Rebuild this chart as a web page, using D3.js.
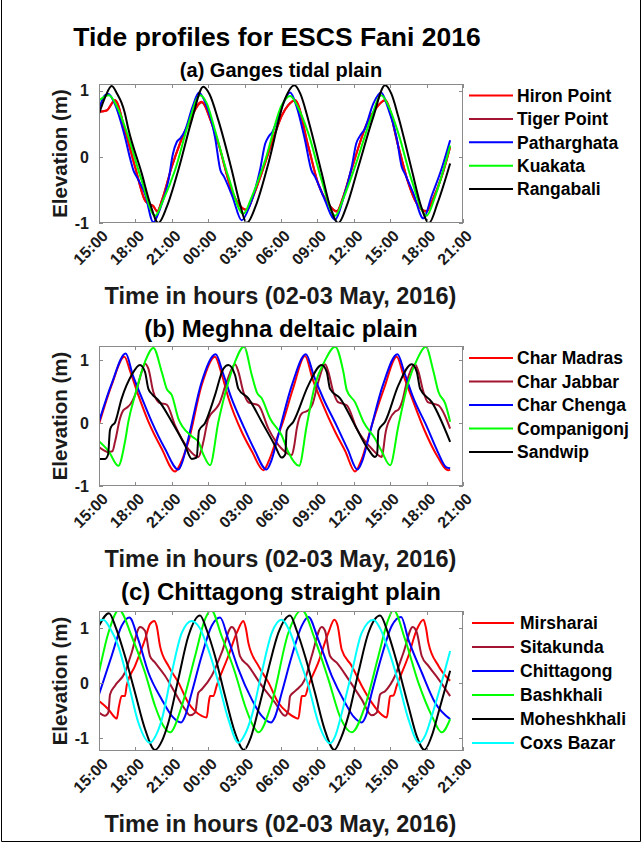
<!DOCTYPE html>
<html><head><meta charset="utf-8">
<script src="https://cdn.jsdelivr.net/npm/d3@7"></script>
<style>
body{margin:0;background:#fff}
svg{display:block;font-family:"Liberation Sans",Arial,Helvetica,sans-serif;font-weight:bold}
</style>
</head><body>
<svg id="chart" width="642" height="855"></svg>
<script>
// ---------- data (hours after 15:00 on 02 May 2016, elevation in m) ----------
const hourTicks = [0,3,6,9,12,15,18,21,24,27,30];
const hourLabels = ["15:00","18:00","21:00","00:00","03:00","06:00","09:00","12:00","15:00","18:00","21:00"];
const elevTicks = [-1,0,1];

// (a) Ganges tidal plain
const gangesNames = ["Hiron Point","Tiger Point","Patharghata","Kuakata","Rangabali"];
const hironPoint = [[0,0.68],[0.63,0.70],[1.32,0.86],[2.14,0.40],[2.97,-0.15],[3.79,-0.66],[4.2,-0.72],[4.45,-0.74],[4.8,-0.83],[5.2,-0.65],[6.0,-0.15],[7.37,0.5],[8.47,0.83],[9.2,0.55],[9.84,0.2],[10.94,-0.51],[11.5,-0.71],[12.18,-0.8],[12.7,-0.6],[13.4,-0.25],[14.5,0.35],[15.06,0.62],[15.6,0.78],[16.16,0.86],[17.26,0.15],[18.07,-0.41],[18.9,-0.71],[19.6,-0.83],[20.1,-0.62],[20.8,-0.2],[22.2,0.55],[22.7,0.7],[23.58,0.86],[24.68,0.15],[25.5,-0.4],[26.05,-0.66],[27.0,-0.83],[27.5,-0.65],[28.24,-0.3],[28.94,0.15]];
const tigerPoint = [[0,0.68],[0.63,0.70],[1.32,0.85],[2.14,0.40],[2.97,-0.15],[3.79,-0.66],[4.2,-0.72],[4.45,-0.74],[4.8,-0.82],[5.2,-0.65],[6.0,-0.15],[7.37,0.5],[8.47,0.82],[9.2,0.55],[9.84,0.2],[10.94,-0.51],[11.5,-0.71],[12.18,-0.8],[12.7,-0.6],[13.4,-0.25],[14.5,0.35],[15.06,0.62],[15.6,0.78],[16.16,0.85],[17.26,0.15],[18.07,-0.41],[18.9,-0.71],[19.6,-0.82],[20.1,-0.62],[20.8,-0.2],[22.2,0.55],[22.7,0.7],[23.58,0.85],[24.68,0.15],[25.5,-0.4],[26.05,-0.66],[27.0,-0.82],[27.5,-0.65],[28.24,-0.3],[28.94,0.15]];
const patharghata = [[0,0.73],[0.49,0.93],[0.77,0.95],[1.3,0.8],[2.14,0.3],[2.6,-0.05],[2.83,-0.2],[3.1,-0.3],[3.79,-0.56],[4.48,-0.99],[5.0,-0.8],[5.72,-0.36],[6.1,0.05],[6.4,0.22],[6.7,0.28],[7.1,0.4],[7.7,0.75],[8.24,0.97],[8.8,0.8],[9.56,0.3],[10.0,-0.2],[10.3,-0.3],[11.0,-0.6],[11.76,-0.96],[12.4,-0.75],[13.27,-0.2],[13.7,0.2],[13.96,0.3],[14.3,0.38],[15.06,0.75],[15.75,0.97],[16.3,0.75],[16.98,0.25],[17.5,-0.2],[17.8,-0.3],[18.5,-0.6],[19.46,-0.95],[20.1,-0.65],[20.83,-0.15],[21.2,0.2],[21.52,0.32],[21.9,0.42],[22.6,0.8],[23.25,0.97],[23.8,0.75],[24.54,0.28],[24.95,-0.15],[25.2,-0.25],[25.9,-0.55],[26.74,-0.93],[27.4,-0.6],[28.2,-0.2],[28.94,0.25]];
const kuakata = [[0,0.85],[0.82,0.93],[1.5,0.75],[2.42,0.3],[3.52,-0.36],[4.62,-0.89],[5.3,-0.65],[6.27,-0.2],[7.37,0.5],[8.33,0.93],[8.9,0.8],[9.56,0.4],[10.66,-0.3],[11.9,-0.86],[12.6,-0.6],[13.7,-0.05],[15.06,0.78],[15.75,0.92],[16.4,0.75],[17.26,0.35],[18.36,-0.36],[19.46,-0.89],[20.2,-0.6],[21.1,-0.15],[22.45,0.6],[23.25,0.93],[23.9,0.75],[24.68,0.35],[25.78,-0.36],[27.0,-0.89],[27.7,-0.6],[28.94,0.17]];
const rangabali = [[0,0.65],[0.5,0.9],[1.05,1.07],[1.5,0.95],[1.87,0.81],[2.1,0.68],[2.42,0.42],[3.52,-0.25],[4.2,-0.7],[4.89,-1.0],[5.6,-0.75],[6.54,-0.2],[7.64,0.55],[8.6,1.06],[9.1,0.95],[9.84,0.55],[10.94,-0.2],[11.6,-0.7],[12.18,-1.0],[12.9,-0.75],[13.96,-0.1],[15.3,0.86],[16.1,1.08],[16.6,0.95],[17.26,0.55],[18.36,-0.25],[19.0,-0.72],[19.73,-1.0],[20.4,-0.75],[21.38,-0.15],[22.6,0.6],[23.58,1.08],[24.1,0.95],[24.68,0.6],[25.78,-0.2],[26.5,-0.72],[27.2,-1.0],[27.9,-0.7],[28.94,-0.1]];

// (b) Meghna deltaic plain
const meghnaNames = ["Char Madras","Char Jabbar","Char Chenga","Companigonj","Sandwip"];
const charMadras = [[0,-0.02],[1.04,0.6],[2.09,1.05],[2.6,0.8],[3.24,0.44],[4.07,0.02],[5.17,-0.41],[6.27,-0.77],[6.7,-0.65],[7.36,-0.3],[8.46,0.6],[9.56,1.05],[10.1,0.78],[10.66,0.4],[11.76,-0.14],[12.6,-0.45],[13.55,-0.75],[14.0,-0.6],[14.65,-0.25],[15.06,-0.04],[16.0,0.55],[16.98,1.06],[17.6,0.7],[18.36,0.33],[19.46,-0.14],[20.3,-0.45],[21.1,-0.77],[21.6,-0.6],[22.48,-0.04],[23.5,0.55],[24.54,1.05],[25.1,0.75],[25.78,0.4],[26.88,-0.14],[27.8,-0.5],[28.8,-0.75],[28.94,-0.74]];
const charJabbar = [[0,-0.38],[0.77,-0.46],[1.1,-0.45],[1.32,-0.3],[1.73,0.07],[2.0,0.2],[2.28,0.24],[2.6,0.3],[2.97,0.44],[3.52,0.81],[3.79,0.94],[4.07,0.86],[4.48,0.49],[4.9,0.33],[5.17,0.31],[5.58,0.29],[6.27,-0.04],[7.36,-0.41],[8.19,-0.54],[8.4,-0.45],[8.6,-0.3],[9.01,0.07],[9.56,0.21],[9.9,0.3],[10.52,0.65],[11.21,0.93],[11.49,0.81],[11.9,0.49],[12.3,0.33],[12.59,0.31],[13.14,0.28],[13.96,-0.09],[15.06,-0.41],[15.89,-0.51],[16.1,-0.35],[16.3,-0.09],[16.71,0.15],[17.26,0.2],[17.6,0.3],[18.07,0.65],[18.63,0.93],[18.9,0.81],[19.31,0.49],[19.7,0.33],[20.0,0.31],[20.42,0.28],[21.24,-0.09],[22.48,-0.41],[23.3,-0.54],[23.45,-0.4],[23.58,-0.2],[23.99,0.07],[24.4,0.18],[24.68,0.21],[25.0,0.35],[25.37,0.65],[26.05,0.93],[26.33,0.81],[26.74,0.49],[27.1,0.33],[27.43,0.31],[27.98,0.28],[28.94,-0.09]];
const charChenga = [[0,0.02],[1.04,0.62],[2.2,1.1],[2.8,0.75],[3.52,0.4],[4.34,0.02],[5.44,-0.41],[6.54,-0.74],[6.9,-0.6],[7.36,-0.25],[8.46,0.65],[9.62,1.09],[10.2,0.8],[10.9,0.4],[11.9,-0.05],[12.8,-0.42],[13.8,-0.74],[14.2,-0.6],[14.7,-0.25],[15.9,0.6],[17.05,1.09],[17.7,0.75],[18.5,0.38],[19.6,-0.05],[20.5,-0.42],[21.3,-0.74],[21.7,-0.6],[22.2,-0.25],[23.4,0.6],[24.6,1.09],[25.2,0.78],[25.9,0.4],[27.0,-0.05],[27.9,-0.45],[28.6,-0.7],[28.94,-0.72]];
const companigonj = [[0,-0.29],[0.8,-0.45],[1.59,-0.68],[2.14,-0.3],[2.42,0.02],[2.97,0.44],[3.79,0.97],[4.48,1.19],[5.17,0.81],[5.58,0.54],[6.0,0.44],[6.54,0.07],[7.64,-0.21],[8.19,-0.3],[8.6,-0.5],[9.15,-0.67],[9.84,0.02],[10.66,0.65],[11.21,0.97],[11.95,1.21],[12.59,0.76],[13.0,0.49],[13.41,0.39],[14.1,0.07],[15.06,-0.2],[15.6,-0.46],[16.49,-0.68],[17.12,-0.04],[17.8,0.6],[18.6,0.98],[19.46,1.21],[20.14,0.81],[20.42,0.52],[21.1,0.33],[21.79,0.02],[22.75,-0.25],[23.3,-0.45],[23.99,-0.67],[24.68,-0.04],[25.5,0.65],[26.2,1.0],[26.93,1.21],[27.57,0.81],[27.98,0.49],[28.53,0.31],[28.94,0.02]];
const sandwip = [[0,-0.57],[0.5,-0.57],[0.75,-0.5],[0.9,-0.12],[1.04,-0.05],[1.3,0.0],[1.87,0.39],[2.69,0.76],[3.38,0.92],[3.79,0.81],[4.07,0.54],[4.4,0.45],[4.89,0.36],[6.0,0.02],[7.1,-0.36],[7.64,-0.57],[8.05,-0.55],[8.24,-0.12],[8.74,0.0],[9.56,0.44],[10.25,0.86],[10.66,0.92],[11.21,0.76],[11.49,0.54],[12.31,0.39],[13.41,0.02],[14.51,-0.36],[15.06,-0.55],[15.35,-0.5],[15.47,-0.12],[16.02,0.02],[17.26,0.6],[18.36,0.92],[18.77,0.81],[19.04,0.54],[19.87,0.39],[21.1,-0.04],[22.2,-0.42],[22.75,-0.54],[22.92,-0.5],[23.03,-0.12],[23.58,0.02],[24.68,0.6],[25.78,0.93],[26.19,0.81],[26.47,0.54],[27.43,0.33],[28.94,-0.3]];

// (c) Chittagong straight plain
const chittagongNames = ["Mirsharai","Sitakunda","Chittagong","Bashkhali","Moheshkhali","Coxs Bazar"];
const mirsharai = [[0,-0.33],[0.77,-0.48],[1.32,-0.63],[1.46,-0.65],[1.65,-0.42],[1.87,-0.24],[2.14,-0.24],[2.28,-0.05],[2.97,0.31],[3.79,0.79],[4.2,1.07],[4.56,1.13],[4.75,1.04],[5.03,0.67],[5.72,0.31],[6.54,0.01],[7.36,-0.36],[8.46,-0.6],[8.87,-0.63],[9.05,-0.35],[9.15,-0.24],[9.42,-0.24],[9.7,-0.05],[10.66,0.49],[11.35,0.91],[11.9,1.13],[12.1,1.0],[12.31,0.73],[13.14,0.31],[13.96,0.01],[14.78,-0.36],[15.6,-0.55],[16.16,-0.63],[16.43,-0.65],[16.6,-0.4],[16.71,-0.24],[16.98,-0.24],[17.26,-0.05],[18.07,0.37],[18.9,0.91],[19.4,1.15],[19.67,1.04],[20.0,0.61],[20.83,0.31],[21.65,-0.05],[22.48,-0.36],[23.3,-0.58],[23.72,-0.63],[23.88,-0.4],[23.99,-0.24],[24.26,-0.23],[24.54,-0.05],[25.5,0.49],[26.19,0.97],[26.74,1.15],[26.95,1.0],[27.15,0.73],[27.98,0.31],[28.94,0.04]];
const sitakunda = [[0,-0.54],[0.49,-0.6],[0.77,-0.54],[0.91,-0.21],[1.32,-0.05],[2.14,0.19],[2.69,0.55],[3.38,1.02],[3.79,0.95],[4.2,0.49],[4.62,0.37],[5.44,0.13],[6.27,-0.18],[7.09,-0.48],[7.5,-0.59],[7.92,-0.54],[8.19,-0.18],[8.46,-0.12],[9.29,0.13],[10.11,0.55],[10.94,1.02],[11.21,0.95],[11.62,0.49],[12.31,0.31],[13.41,-0.05],[14.51,-0.36],[15.33,-0.6],[15.6,-0.5],[15.75,-0.24],[16.16,-0.15],[16.98,0.07],[17.53,0.49],[18.36,1.02],[18.63,0.95],[19.04,0.49],[19.59,0.37],[20.55,0.07],[21.65,-0.3],[22.48,-0.59],[22.89,-0.54],[23.17,-0.21],[23.58,-0.15],[24.4,0.13],[25.09,0.55],[25.86,1.02],[26.19,0.92],[26.6,0.49],[27.15,0.31],[27.98,0.07],[28.94,-0.24]];
const chittagong = [[0,-0.21],[1.04,0.49],[1.87,1.04],[2.5,1.19],[3.24,0.79],[4.07,0.19],[5.17,-0.3],[6.0,-0.6],[6.76,-0.72],[7.1,-0.6],[7.64,-0.18],[8.46,0.49],[9.29,1.04],[9.98,1.19],[10.66,0.79],[11.49,0.25],[12.59,-0.3],[13.41,-0.6],[14.18,-0.72],[14.5,-0.62],[15.06,-0.18],[15.89,0.49],[16.71,1.04],[17.26,1.2],[18.07,0.79],[19.18,0.13],[20.28,-0.36],[21.0,-0.62],[21.65,-0.72],[22.0,-0.6],[22.48,-0.18],[23.3,0.49],[24.13,1.04],[24.9,1.2],[25.5,0.79],[26.6,0.19],[27.7,-0.36],[28.94,-0.66]];
const bashkhali = [[0,0.19],[0.77,0.91],[1.65,1.33],[2.69,0.85],[3.79,0.19],[4.62,-0.42],[5.3,-0.78],[5.85,-0.9],[6.82,-0.42],[7.92,0.49],[8.74,1.16],[9.23,1.33],[10.11,0.85],[11.21,0.19],[12.04,-0.42],[12.7,-0.78],[13.14,-0.9],[14.24,-0.36],[15.6,0.91],[16.71,1.33],[17.8,0.79],[18.9,0.07],[19.95,-0.66],[20.83,-0.9],[21.93,-0.42],[23.03,0.49],[23.85,1.16],[24.26,1.33],[25.23,0.79],[26.33,0.0],[27.43,-0.6],[28.25,-0.9],[28.94,-0.66]];
const moheshkhali = [[0,1.04],[0.82,1.27],[1.4,1.0],[2.14,0.49],[2.97,-0.18],[3.79,-0.84],[4.62,-1.22],[5.2,-1.05],[5.72,-0.72],[6.54,0.07],[7.36,0.85],[8.33,1.23],[8.9,0.95],[9.56,0.49],[10.39,-0.24],[11.2,-0.9],[11.95,-1.22],[12.5,-1.0],[13.14,-0.48],[13.96,0.25],[14.78,0.91],[15.75,1.23],[16.3,0.95],[16.98,0.49],[17.8,-0.18],[18.6,-0.85],[19.4,-1.22],[19.95,-1.0],[20.55,-0.6],[21.38,0.19],[22.2,0.91],[23.17,1.23],[23.8,0.92],[24.4,0.49],[25.5,-0.42],[26.2,-0.98],[26.82,-1.22],[27.4,-0.98],[27.98,-0.54],[28.94,0.22]];
const coxsBazar = [[0,1.13],[0.36,1.15],[0.9,1.0],[1.59,0.67],[2.42,0.0],[3.24,-0.72],[4.2,-1.09],[4.7,-0.95],[5.17,-0.67],[6.0,0.19],[6.82,0.91],[7.64,1.13],[8.3,1.0],[9.01,0.61],[9.84,0.01],[10.66,-0.66],[11.49,-1.09],[12.0,-0.95],[12.59,-0.6],[13.41,0.19],[14.24,0.91],[15.06,1.15],[15.7,0.95],[16.43,0.49],[17.26,-0.05],[18.07,-0.72],[19.04,-1.1],[19.5,-0.95],[19.95,-0.6],[20.83,0.19],[21.65,0.91],[22.62,1.15],[23.2,0.98],[23.85,0.61],[24.68,0.01],[25.5,-0.66],[26.38,-1.09],[26.9,-0.95],[27.43,-0.6],[28.94,0.58]];

// ---------- styles / layout ----------
const RED="#ff0000", BROWN="#a2142f", BLUE="#0000ff", GREEN="#00ff00", BLACK="#000000", CYAN="#00ffff";

const panels = [
  { title:"(a) Ganges tidal plain", titleSize:20, titleY:77, top:84, bottom:223, ydom:[-1,1.1],
    names:gangesNames, series:[hironPoint,tigerPoint,patharghata,kuakata,rangabali],
    colors:[RED,BROWN,BLUE,GREEN,BLACK], drawOrder:[1,0,2,3,4],
    legY0:95.5, legStep:23.4, legX1:469, legX2:513, legTX:517 },
  { title:"(b) Meghna deltaic plain", titleSize:24, titleY:337, top:346, bottom:486, ydom:[-1,1.22],
    names:meghnaNames, series:[charMadras,charJabbar,charChenga,companigonj,sandwip],
    colors:[RED,BROWN,BLUE,GREEN,BLACK], drawOrder:[0,1,2,3,4],
    legY0:358, legStep:23.5, legX1:469, legX2:513, legTX:517 },
  { title:"(c) Chittagong straight plain", titleSize:24, titleY:600, top:611, bottom:751, ydom:[-1.24,1.31],
    names:chittagongNames, series:[mirsharai,sitakunda,chittagong,bashkhali,moheshkhali,coxsBazar],
    colors:[RED,BROWN,BLUE,GREEN,BLACK,CYAN], drawOrder:[0,1,2,3,4,5],
    legY0:623, legStep:24, legX1:472, legX2:514, legTX:520 }
];

const svg = d3.select("#chart");
const LEFT=99, RIGHT=463;
const x = d3.scaleLinear().domain([0,30]).range([LEFT,RIGHT]);
const TXT="#1a1a1a", AXC="#8a8a8a";

// outer figure frame
svg.append("path").attr("d","M1.5,-2 V841.5 H640.5 V-2").attr("fill","none").attr("stroke","#000").attr("stroke-width",1);

svg.append("text").attr("x",277).attr("y",46).attr("text-anchor","middle")
  .attr("font-size",26.5).attr("fill","#000").text("Tide profiles for ESCS Fani 2016");

panels.forEach((p,pi)=>{
  const y = d3.scaleLinear().domain(p.ydom).range([p.bottom,p.top]);
  const g = svg.append("g");
  const cid = "clip"+pi;
  svg.append("clipPath").attr("id",cid).append("rect")
    .attr("x",LEFT).attr("y",p.top).attr("width",RIGHT-LEFT).attr("height",p.bottom-p.top);

  // subplot title
  g.append("text").attr("x",(LEFT+RIGHT)/2).attr("y",p.titleY).attr("text-anchor","middle")
    .attr("font-size",p.titleSize).attr("fill","#000").text(p.title);

  // lines
  const line = d3.line().x(d=>x(d[0])).y(d=>y(d[1])).curve(d3.curveMonotoneX);
  const lg = g.append("g").attr("clip-path",`url(#${cid})`);
  p.drawOrder.forEach(i=>{
    lg.append("path").attr("d",line(p.series[i])).attr("fill","none")
      .attr("stroke",p.colors[i]).attr("stroke-width",2).attr("stroke-linejoin","round");
  });

  // box
  g.append("rect").attr("x",LEFT+0.5).attr("y",p.top+0.5).attr("width",RIGHT-LEFT-1).attr("height",p.bottom-p.top-1)
    .attr("fill","none").attr("stroke",AXC).attr("stroke-width",1);

  // x ticks (bottom + top, inward)
  hourTicks.forEach((h,k)=>{
    const xx = Math.round(x(h))+0.5;
    g.append("line").attr("x1",xx).attr("x2",xx).attr("y1",p.bottom).attr("y2",p.bottom-4).attr("stroke",AXC);
    g.append("line").attr("x1",xx).attr("x2",xx).attr("y1",p.top).attr("y2",p.top+4).attr("stroke",AXC);
    g.append("text").attr("transform",`translate(${x(h)+6},${p.bottom+10}) rotate(-45)`)
      .attr("text-anchor","end").attr("dy","0.35em").attr("font-size",16).attr("fill",TXT)
      .text(hourLabels[k]);
  });
  // y ticks
  elevTicks.forEach(v=>{
    const yy = Math.round(y(v))+0.5;
    g.append("line").attr("x1",LEFT).attr("x2",LEFT+4).attr("y1",yy).attr("y2",yy).attr("stroke",AXC);
    g.append("line").attr("x1",RIGHT).attr("x2",RIGHT-4).attr("y1",yy).attr("y2",yy).attr("stroke",AXC);
    g.append("text").attr("x",89).attr("y",y(v)).attr("dy","0.36em").attr("text-anchor","end")
      .attr("font-size",16).attr("fill",TXT).text(v);
  });

  // axis labels
  g.append("text").attr("transform",`translate(67,${(p.top+p.bottom)/2}) rotate(-90)`)
    .attr("text-anchor","middle").attr("font-size",20.5).attr("fill",TXT).text("Elevation (m)");
  g.append("text").attr("x",280.5).attr("y",p.bottom+81).attr("text-anchor","middle")
    .attr("font-size",23.5).attr("fill",TXT).text("Time in hours (02-03 May, 2016)");

  // legend
  p.names.forEach((n,i)=>{
    const ly = p.legY0 + i*p.legStep;
    g.append("line").attr("x1",p.legX1).attr("x2",p.legX2).attr("y1",ly).attr("y2",ly)
      .attr("stroke",p.colors[i]).attr("stroke-width",2);
    g.append("text").attr("x",p.legTX).attr("y",ly).attr("dy","0.36em")
      .attr("font-size",17.5).attr("fill","#000").text(n);
  });
});
</script>
</body></html>
